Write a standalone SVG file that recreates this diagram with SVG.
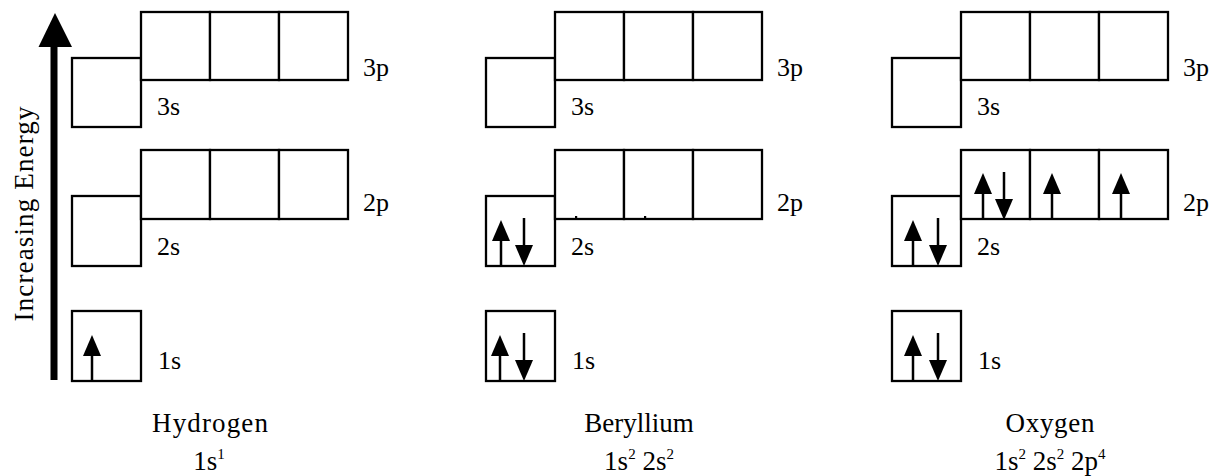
<svg xmlns="http://www.w3.org/2000/svg" width="1219" height="476" viewBox="0 0 1219 476">
<style>
.box{fill:#fff;stroke:#000;stroke-width:2.3}
.lbl{font-family:"Liberation Serif",serif;font-size:26px;fill:#000}
.name{font-family:"Liberation Serif",serif;font-size:27px;fill:#000}
.cfg{font-family:"Liberation Serif",serif;font-size:27px;fill:#000}
.sup{font-size:15px}
.shaft{stroke:#000;stroke-width:2.5}
</style>
<defs>
<g id="up"><line class="shaft" x1="0" y1="0" x2="0" y2="-26"/><polygon points="-9,-25 9,-25 0,-46"/></g>
<g id="dn"><line class="shaft" x1="0" y1="0" x2="0" y2="30"/><polygon points="-9,27 9,27 0,48"/></g>
<g id="col">
<rect class="box" x="0" y="46" width="69" height="69"/>
<rect class="box" x="69" y="0" width="69" height="68"/>
<rect class="box" x="138" y="0" width="69" height="68"/>
<rect class="box" x="207" y="0" width="69" height="68"/>
<rect class="box" x="0" y="184" width="69" height="70"/>
<rect class="box" x="69" y="138" width="69" height="69"/>
<rect class="box" x="138" y="138" width="69" height="69"/>
<rect class="box" x="207" y="138" width="69" height="69"/>
<rect class="box" x="0" y="299" width="69" height="70"/>
<text class="lbl" x="85" y="103">3s</text>
<text class="lbl" x="291" y="64">3p</text>
<text class="lbl" x="85" y="243">2s</text>
<text class="lbl" x="291" y="199">2p</text>
<text class="lbl" x="86" y="357">1s</text>
</g>
</defs>
<g id="energy-axis">
<rect x="50.5" y="44" width="7" height="336" fill="#000"/>
<polygon points="38.5,47 72,47 55,13" fill="#000"/>
<text class="name" font-size="28" transform="translate(33,214) rotate(-90)" text-anchor="middle" textLength="215">Increasing Energy</text>
</g>
<g id="hydrogen">
<use href="#col" x="72" y="12"/>
<use href="#up" x="92" y="381"/>
<text class="name" x="210" y="432" text-anchor="middle" textLength="116">Hydrogen</text>
<text class="cfg" x="209" y="470" text-anchor="middle">1s<tspan class="sup" dy="-11">1</tspan></text>
</g>
<g id="beryllium">
<use href="#col" x="486" y="12"/>
<rect x="575" y="216" width="2.2" height="3" fill="#000"/>
<rect x="644" y="216" width="2.2" height="3" fill="#000"/>
<use href="#up" x="500" y="381"/>
<use href="#dn" x="524" y="333"/>
<use href="#up" x="501" y="266"/>
<use href="#dn" x="524" y="218"/>
<text class="name" x="639" y="432" text-anchor="middle" font-size="26">Beryllium</text>
<text class="cfg" x="639" y="470" text-anchor="middle">1s<tspan class="sup" dy="-11">2</tspan><tspan dy="11"> 2s</tspan><tspan class="sup" dy="-11">2</tspan></text>
</g>
<g id="oxygen">
<use href="#col" x="892" y="12"/>
<use href="#up" x="913" y="381"/>
<use href="#dn" x="938" y="333"/>
<use href="#up" x="913" y="266"/>
<use href="#dn" x="938" y="218"/>
<use href="#up" x="983" y="219"/>
<use href="#dn" x="1004" y="172"/>
<use href="#up" x="1052" y="219"/>
<use href="#up" x="1121" y="219"/>
<text class="name" x="1050" y="432" text-anchor="middle" textLength="89">Oxygen</text>
<text class="cfg" x="1050" y="470" text-anchor="middle">1s<tspan class="sup" dy="-11">2</tspan><tspan dy="11"> 2s</tspan><tspan class="sup" dy="-11">2</tspan><tspan dy="11"> 2p</tspan><tspan class="sup" dy="-11">4</tspan></text>
</g>
</svg>
